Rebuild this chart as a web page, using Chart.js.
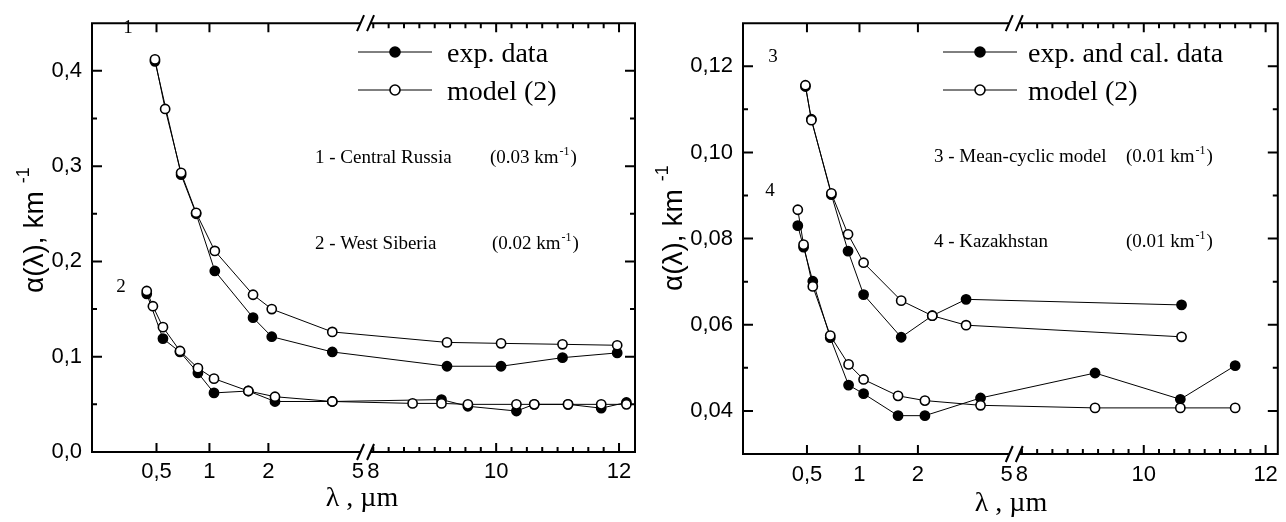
<!DOCTYPE html>
<html><head><meta charset="utf-8">
<script src="https://cdn.jsdelivr.net/npm/chart.js@4.4.1/dist/chart.umd.min.js"></script>
<style>
html,body{margin:0;padding:0;background:#fff;}
#wrap{position:relative;width:1286px;height:522px;background:#fff;}
.panel{position:absolute;top:0;width:643px;height:522px;}
</style></head><body>
<div id="wrap">
<div class="panel" style="left:0"><canvas id="c1" width="643" height="522"></canvas></div>
<div class="panel" style="left:643px"><canvas id="c2" width="643" height="522"></canvas></div>
</div>
<script>
// ---------- data (wavelength in um, attenuation in km^-1) ----------
const lam1Mod = [0.49, 0.56, 0.69, 0.84, 1.065, 1.67, 2.07, 3.85, 9.2, 10.08, 11.08, 11.97];
const alpha1Mod = [0.412, 0.360, 0.293, 0.251, 0.211, 0.165, 0.150, 0.126, 0.115, 0.114, 0.113, 0.112];
const lam1Exp = [0.49, 0.69, 0.84, 1.065, 1.67, 2.07, 3.85, 9.2, 10.08, 11.08, 11.97];
const alpha1Exp = [0.410, 0.291, 0.250, 0.190, 0.141, 0.121, 0.105, 0.090, 0.090, 0.099, 0.104];

const lam2Mod = [0.44, 0.477, 0.544, 0.68, 0.86, 1.055, 1.58, 2.14, 3.85, 8.64, 9.11, 9.54, 10.33, 10.62, 11.17, 11.71, 12.12];
const alpha2Mod = [0.169, 0.153, 0.131, 0.106, 0.088, 0.077, 0.064, 0.058, 0.053, 0.051, 0.051, 0.050, 0.050, 0.050, 0.050, 0.050, 0.050];
const lam2Exp = [0.44, 0.544, 0.68, 0.86, 1.055, 1.58, 2.14, 3.85, 9.11, 9.54, 10.33, 10.62, 11.17, 11.71, 12.12];
const alpha2Exp = [0.166, 0.119, 0.105, 0.083, 0.062, 0.064, 0.053, 0.053, 0.055, 0.048, 0.043, 0.050, 0.050, 0.046, 0.052];

const lam3 = [0.49, 0.53, 0.69, 0.86, 1.05, 1.64, 2.32, 3.29, 10.62];
const alpha3Mod = [0.1156, 0.1075, 0.0905, 0.0810, 0.0744, 0.0656, 0.0621, 0.0599, 0.0572];
const alpha3Exp = [0.1153, 0.1077, 0.0902, 0.0771, 0.0670, 0.0571, 0.0621, 0.0659, 0.0646];

const lam4 = [0.443, 0.478, 0.54, 0.68, 0.866, 1.05, 1.58, 2.15, 3.82, 9.2, 10.6, 11.5];
const alpha4Mod = [0.0867, 0.0786, 0.0689, 0.0575, 0.0508, 0.0473, 0.0435, 0.0424, 0.0413, 0.0407, 0.0407, 0.0407];
const alpha4Exp = [0.0830, 0.0780, 0.0701, 0.0570, 0.0460, 0.0440, 0.0389, 0.0389, 0.0430, 0.0488, 0.0427, 0.0505];

// ---------- tick labels ----------
const xTickValues = [0.5, 1, 2, 5, 8, 10, 12];
const xTickLabels = ['0,5', '1', '2', '5', '8', '10', '12'];
const xMajorMarks = [0.5, 1, 2, 10, 12];
const xMinorMarks = [8, 8.25, 8.5, 8.75, 9, 9.25, 9.5, 9.75, 10.25, 10.5, 10.75, 11, 11.25, 11.5, 11.75, 12.25];
const xBreakAt = 6.5;

const yTicksL = [0, 0.1, 0.2, 0.3, 0.4];
const yLabelsL = ['0,0', '0,1', '0,2', '0,3', '0,4'];
const yMinorL = [0.05, 0.15, 0.25, 0.35];
const yTicksR = [0.04, 0.06, 0.08, 0.10, 0.12];
const yLabelsR = ['0,04', '0,06', '0,08', '0,10', '0,12'];
const yMinorR = [0.05, 0.07, 0.09, 0.11];

// ---------- broken (log | linear) wavelength axis ----------
function lamToU(v) {
  if (v >= 8) return 281.5 + 61.5 * (v - 8);
  if (v >= 5) return 266 + (v - 5) * (15.5 / 3);
  if (v >= 2) return 176.5 + 89.5 * Math.log(v / 2) / Math.log(2.5);
  if (v >= 1) return 117.5 + 59 * Math.log2(v);
  return 64.5 + 53 * Math.log2(v / 0.5);
}
class BrokenScale extends Chart.LinearScale {
  static id = 'broken';
  static defaults = {};
  determineDataLimits() { this.min = this.options.min; this.max = this.options.max; }
  buildTicks() { return Array.from(this.options.tickValues).map(v => ({ value: v })); }
  configure() { super.configure(); this._u0 = lamToU(this.min); this._u1 = lamToU(this.max); }
  getPixelForValue(v) {
    if (v === null || v === undefined || isNaN(v)) return NaN;
    return this.getPixelForDecimal((lamToU(v) - this._u0) / (this._u1 - this._u0));
  }
  getValueForPixel(p) { return this.min + this.getDecimalForPixel(p) * (this.max - this.min); }
}
Chart.register(BrokenScale);

const SANS = '"Liberation Sans", Arial, sans-serif';
const SERIF = '"Liberation Serif", "Times New Roman", serif';

function pts(xs, ys) { return xs.map((x, i) => ({ x: x, y: ys[i] })); }
function ds(label, xs, ys, filled) {
  return {
    label: label, data: pts(xs, ys), borderColor: '#000', borderWidth: 1,
    pointRadius: 4.6, pointHoverRadius: 4.6, pointBorderWidth: 1.6, pointBorderColor: '#000',
    pointBackgroundColor: filled ? '#000' : '#fff', backgroundColor: filled ? '#000' : '#fff',
    fill: false, tension: 0, order: filled ? 1 : 0, clip: false
  };
}

function textSup(ctx, x, y, main, sup, tail, size) {
  ctx.font = size + 'px ' + SERIF;
  ctx.fillText(main, x, y);
  let w = ctx.measureText(main).width;
  ctx.font = Math.round(size * 0.62) + 'px ' + SERIF;
  ctx.fillText(sup, x + w + 1, y - size * 0.42);
  w += ctx.measureText(sup).width + 2;
  ctx.font = size + 'px ' + SERIF;
  ctx.fillText(tail, x + w, y);
}

function decor(cfg) {
  return {
    id: 'decor',
    afterDraw(chart) {
      const ctx = chart.ctx, a = chart.chartArea, xs = chart.scales.x, ys = chart.scales.y;
      ctx.save();
      ctx.strokeStyle = '#000'; ctx.fillStyle = '#000'; ctx.lineCap = 'butt';
      const xb = xs.getPixelForValue(xBreakAt);
      // frame
      ctx.lineWidth = 2;
      ctx.beginPath();
      ctx.moveTo(a.left, a.top - 1); ctx.lineTo(a.left, a.bottom + 1);
      ctx.moveTo(a.right, a.top - 1); ctx.lineTo(a.right, a.bottom + 1);
      [a.top, a.bottom].forEach(y => {
        ctx.moveTo(a.left, y); ctx.lineTo(xb - 5, y);
        ctx.moveTo(xb + 5, y); ctx.lineTo(a.right, y);
      });
      ctx.stroke();
      // break marks
      ctx.beginPath();
      [a.top, a.bottom].forEach(y => {
        [-5, 5].forEach(dx => { ctx.moveTo(xb + dx - 3.5, y + 8); ctx.lineTo(xb + dx + 3.5, y - 8); });
      });
      ctx.stroke();
      // x ticks
      ctx.beginPath();
      xMajorMarks.forEach(v => {
        const px = xs.getPixelForValue(v);
        ctx.moveTo(px, a.bottom); ctx.lineTo(px, a.bottom - 9);
        ctx.moveTo(px, a.top); ctx.lineTo(px, a.top + 9);
      });
      xMinorMarks.forEach(v => {
        const px = xs.getPixelForValue(v);
        if (px > a.right - 1) return;
        ctx.moveTo(px, a.bottom); ctx.lineTo(px, a.bottom - 5);
        ctx.moveTo(px, a.top); ctx.lineTo(px, a.top + 5);
      });
      // y ticks
      cfg.yTicks.forEach(v => {
        const py = ys.getPixelForValue(v);
        ctx.moveTo(a.left, py); ctx.lineTo(a.left + 10, py);
        ctx.moveTo(a.right, py); ctx.lineTo(a.right - 10, py);
      });
      cfg.yMinor.forEach(v => {
        const py = ys.getPixelForValue(v);
        ctx.moveTo(a.left, py); ctx.lineTo(a.left + 5, py);
        ctx.moveTo(a.right, py); ctx.lineTo(a.right - 5, py);
      });
      ctx.stroke();

      // legend
      cfg.legend.forEach(r => {
        ctx.lineWidth = 1;
        ctx.beginPath(); ctx.moveTo(r.x0, r.y); ctx.lineTo(r.x1, r.y); ctx.stroke();
        ctx.beginPath(); ctx.arc(r.xc, r.y, 5, 0, Math.PI * 2);
        ctx.fillStyle = r.filled ? '#000' : '#fff'; ctx.fill();
        ctx.lineWidth = 1.6; ctx.stroke();
        ctx.fillStyle = '#000';
        ctx.font = '28px ' + SERIF; ctx.textAlign = 'left'; ctx.textBaseline = 'alphabetic';
        ctx.fillText(r.text, r.tx, r.y + 10);
      });

      // annotations
      ctx.textAlign = 'left'; ctx.textBaseline = 'alphabetic'; ctx.fillStyle = '#000';
      cfg.notes.forEach(n => {
        ctx.font = '19px ' + SERIF;
        ctx.fillText(n.name, n.x, n.y);
        textSup(ctx, n.x2, n.y, n.val, '-1', ')', 19);
      });
      // curve numbers
      ctx.textAlign = 'center'; ctx.textBaseline = 'middle';
      ctx.font = '19px ' + SERIF;
      cfg.curveLabels.forEach(c => ctx.fillText(c.t, c.x, c.y));

      // x title
      ctx.font = '28px ' + SERIF; ctx.textAlign = 'center'; ctx.textBaseline = 'alphabetic';
      ctx.fillText('\u03bb , \u00b5m', cfg.xTitle.x, cfg.xTitle.y);

      // y title
      ctx.translate(cfg.yTitle.x, cfg.yTitle.y);
      ctx.rotate(-Math.PI / 2);
      ctx.textAlign = 'left'; ctx.textBaseline = 'middle';
      ctx.font = '28px ' + SANS;
      ctx.fillText('\u03b1(\u03bb), km', 0, 0);
      const w = ctx.measureText('\u03b1(\u03bb), km').width;
      ctx.font = '18px ' + SANS;
      ctx.fillText('-1', w + 8, -11);
      ctx.restore();
    }
  };
}

function makeChart(id, cfg) {
  return new Chart(document.getElementById(id), {
    type: 'line',
    data: { datasets: cfg.datasets },
    options: {
      responsive: false, animation: false, devicePixelRatio: 1, events: [],
      layout: { padding: cfg.padding },
      plugins: { legend: { display: false }, tooltip: { enabled: false }, title: { display: false } },
      scales: {
        x: {
          type: 'broken', position: 'bottom', min: cfg.xMin, max: cfg.xMax, tickValues: xTickValues,
          grid: { display: false, drawTicks: false }, border: { display: false },
          ticks: {
            autoSkip: false, maxRotation: 0, minRotation: 0, padding: cfg.xPad, color: '#000',
            font: { family: SANS, size: 22 }, callback: (v, i) => xTickLabels[i]
          },
          afterFit: s => { s.height = cfg.xHeight; }
        },
        y: {
          type: 'linear', position: 'left', min: cfg.yMin, max: cfg.yMax,
          grid: { display: false, drawTicks: false }, border: { display: false },
          ticks: {
            padding: 10, color: '#000', font: { family: SANS, size: 22 },
            callback: (v, i) => cfg.yLabels[i]
          },
          afterBuildTicks: s => { s.ticks = cfg.yTicks.map(v => ({ value: v })); },
          afterFit: s => { s.width = cfg.yWidth; }
        }
      }
    },
    plugins: [decor(cfg)]
  });
}

makeChart('c1', {
  datasets: [
    ds('model (2)', lam1Mod, alpha1Mod, false), ds('exp. data', lam1Exp, alpha1Exp, true),
    ds('model (2)', lam2Mod, alpha2Mod, false), ds('exp. data', lam2Exp, alpha2Exp, true)
  ],
  padding: { top: 11, left: 0, right: 8, bottom: 0 },
  yWidth: 92, xHeight: 70, xPad: 7,
  xMin: 0.2149, xMax: 12.26, yMin: 0, yMax: 0.45,
  yTicks: yTicksL, yLabels: yLabelsL, yMinor: yMinorL,
  legend: [
    { x0: 358, x1: 432, xc: 395, y: 52, filled: true, text: 'exp. data', tx: 447 },
    { x0: 358, x1: 432, xc: 395, y: 90, filled: false, text: 'model (2)', tx: 447 }
  ],
  notes: [
    { name: '1 - Central Russia', x: 315, x2: 490, y: 163, val: '(0.03 km' },
    { name: '2 - West Siberia', x: 315, x2: 492, y: 249, val: '(0.02 km' }
  ],
  curveLabels: [{ t: '1', x: 128, y: 28 }, { t: '2', x: 121, y: 287 }],
  xTitle: { x: 362, y: 506 },
  yTitle: { x: 35, y: 293 }
});

makeChart('c2', {
  datasets: [
    ds('model (2)', lam3, alpha3Mod, false), ds('exp. and cal. data', lam3, alpha3Exp, true),
    ds('model (2)', lam4, alpha4Mod, false), ds('exp. and cal. data', lam4, alpha4Exp, true)
  ],
  padding: { top: 13.5, left: 0, right: 3, bottom: 0 },
  yWidth: 100, xHeight: 68, xPad: 8,
  xMin: 0.2149, xMax: 12.2, yMin: 0.03, yMax: 0.13,
  yTicks: yTicksR, yLabels: yLabelsR, yMinor: yMinorR,
  legend: [
    { x0: 300, x1: 374, xc: 337, y: 52, filled: true, text: 'exp. and cal. data', tx: 385 },
    { x0: 300, x1: 374, xc: 337, y: 90, filled: false, text: 'model (2)', tx: 385 }
  ],
  notes: [
    { name: '3 - Mean-cyclic model', x: 291, x2: 483, y: 162, val: '(0.01 km' },
    { name: '4 - Kazakhstan', x: 291, x2: 483, y: 247, val: '(0.01 km' }
  ],
  curveLabels: [{ t: '3', x: 130, y: 57 }, { t: '4', x: 127, y: 191 }],
  xTitle: { x: 368, y: 511 },
  yTitle: { x: 31, y: 291 }
});
</script>
</body></html>
